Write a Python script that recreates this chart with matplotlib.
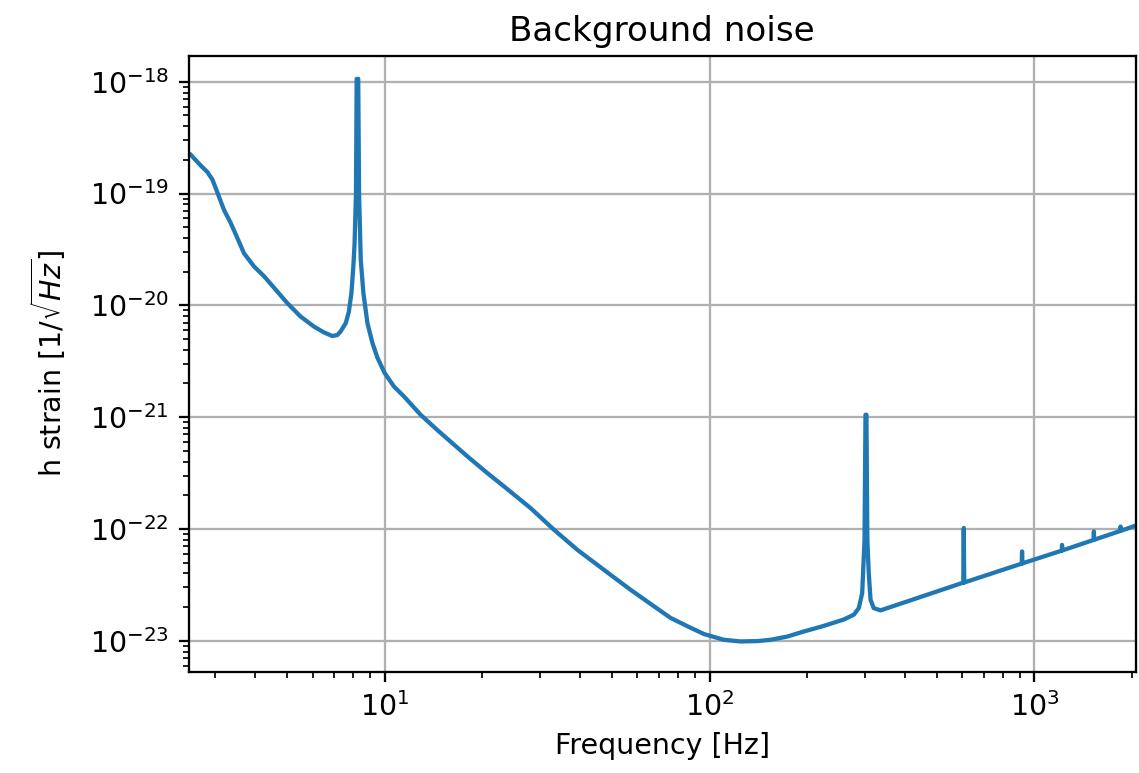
import matplotlib
matplotlib.use('Agg')
import matplotlib.pyplot as plt

# values (frequency in Hz, strain ASD)
freq = [2.53, 2.72, 2.85, 2.95, 3.06, 3.2, 3.36, 3.52, 3.69, 3.96, 4.26, 4.62,
        5.01, 5.51, 6.06, 6.5, 6.9, 7.15, 7.32, 7.59, 7.76, 7.9, 8.01, 8.08,
        8.16, 8.2, 8.29, 8.34, 8.44, 8.6, 8.85, 9.17, 9.5, 10.0, 10.68, 11.47,
        12.9, 14.5, 17.97, 20.7, 23.3, 28.1, 33.2, 39.2, 47.3, 57.1, 67.5,
        75.9, 85.4, 96.0, 110.7, 124.5, 140.2, 154.0, 173.4, 195.0, 225.0,
        259.0, 278.0, 288.0, 295.0, 299.9, 302.0, 304.0, 306.0, 309.0, 313.0,
        320.0, 336.0, 598.0, 604.0, 606.0, 608.0, 914.0, 916.0, 918.0, 1214.0,
        1216.0, 1218.0, 1522.0, 1524.0, 1526.0, 1839.0, 1841.0, 1843.0, 2048.0]
strain = [2.22e-19, 1.77e-19, 1.55e-19, 1.33e-19, 1.01e-19, 7.16e-20, 5.43e-20,
          4.0e-20, 2.92e-20, 2.23e-20, 1.81e-20, 1.38e-20, 1.05e-20, 7.94e-21,
          6.45e-21, 5.73e-21, 5.32e-21, 5.42e-21, 5.85e-21, 6.93e-21, 8.8e-21,
          1.29e-20, 2.23e-20, 3.6e-20, 1e-19, 1.06e-18, 1.06e-18, 1e-19,
          2.56e-20, 1.29e-20, 6.93e-21, 4.6e-21, 3.4e-21, 2.48e-21, 1.88e-21,
          1.53e-21, 1.05e-21, 7.7e-22, 4.46e-22, 3.16e-22, 2.4e-22, 1.54e-22,
          9.84e-23, 6.5e-23, 4.31e-23, 2.86e-23, 2.03e-23, 1.6e-23, 1.35e-23,
          1.15e-23, 1.02e-23, 9.86e-24, 9.93e-24, 1.02e-23, 1.09e-23, 1.21e-23,
          1.36e-23, 1.55e-23, 1.71e-23, 1.96e-23, 2.67e-23, 8e-23, 1.05e-21,
          1.05e-21, 8e-23, 4.04e-23, 2.33e-23, 1.96e-23, 1.87e-23, 3.28e-23,
          3.3e-23, 1.02e-22, 3.32e-23, 4.9e-23, 6.3e-23, 4.92e-23, 6.4e-23,
          7.2e-23, 6.42e-23, 7.98e-23, 9.5e-23, 8.0e-23, 9.6e-23, 1.05e-22,
          9.62e-23, 1.07e-22]

s = 2.05  # screenshot scale

fig = plt.figure(figsize=(11.39, 7.73), dpi=100)
ax = fig.add_axes([0.166, 0.131, 0.831, 0.797])
ax.loglog(freq, strain, color='#1f77b4', linewidth=1.5 * s)
ax.set_xlim(2.5, 2048)
ax.set_ylim(10 ** -23.277, 10 ** -17.767)
ax.grid(True, which='major', color='#b0b0b0', linewidth=0.8 * s)
ax.set_title('Background noise', fontsize=12 * s, pad=5 * s)
ax.set_xlabel('Frequency [Hz]', fontsize=10 * s, labelpad=3.5 * s)
ax.set_ylabel(r'h strain [1/$\sqrt{Hz}$]', fontsize=10 * s, labelpad=7.5 * s)
ax.tick_params(which='major', labelsize=10 * s, length=3.5 * s, width=0.8 * s, pad=3.5 * s)
ax.tick_params(which='minor', length=2 * s, width=0.6 * s)
for sp in ax.spines.values():
    sp.set_linewidth(0.8 * s)

fig.savefig('out.png', dpi=100)
